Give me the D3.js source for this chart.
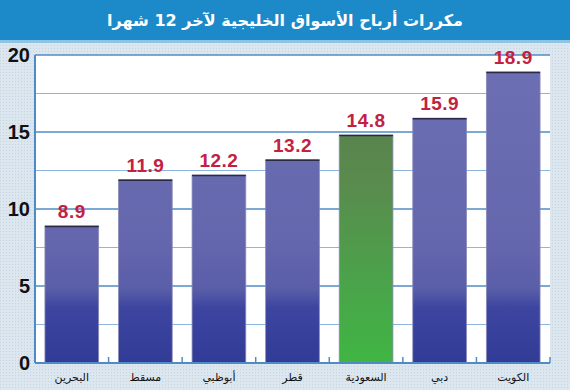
<!DOCTYPE html>
<html>
<head>
<meta charset="utf-8">
<script src="https://cdn.jsdelivr.net/npm/d3@7"></script>
<style>
  html, body { margin: 0; padding: 0; background: #d9e5ee; }
  svg { display: block; }
</style>
</head>
<body>
<svg id="chart" width="570" height="390"></svg>
<script>
const title = 'مكررات أرباح الأسواق الخليجية لآخر 12 شهرا';
const markets = ['البحرين', 'مسقط', 'أبوظبي', 'قطر', 'السعودية', 'دبي', 'الكويت'];
const multiples = [8.9, 11.9, 12.2, 13.2, 14.8, 15.9, 18.9];
const highlight = ['السعودية'];
const yTicks = [0, 5, 10, 15, 20];
const yGrid = [2.5, 5, 7.5, 10, 12.5, 15, 17.5, 20];

const W = 570, H = 390;
const plot = { left: 35, right: 550, top: 55, bottom: 363 };

const svg = d3.select('#chart');
const defs = svg.append('defs');

// dotted paper background
const pat = defs.append('pattern').attr('id', 'dots')
  .attr('width', 3).attr('height', 3).attr('patternUnits', 'userSpaceOnUse');
pat.append('rect').attr('width', 3).attr('height', 3).attr('fill', '#dbe6ef');
pat.append('rect').attr('width', 1).attr('height', 1).attr('fill', '#c5d4e0');
svg.append('rect').attr('width', W).attr('height', H).attr('fill', 'url(#dots)');

const x = d3.scaleBand().domain(markets).range([plot.left, plot.right]).paddingInner(0.27).paddingOuter(0.135);
const y = d3.scaleLinear().domain([0, 20]).range([plot.bottom, plot.top]);

function grad(id, stops) {
  const g = defs.append('linearGradient').attr('id', id)
    .attr('gradientUnits', 'userSpaceOnUse')
    .attr('x1', 0).attr('x2', 0).attr('y1', y(20)).attr('y2', y(0));
  stops.forEach(([o, c]) => g.append('stop').attr('offset', o).attr('stop-color', c));
}
grad('blueBar', [[0, '#6d6fb4'], [0.6, '#6567ae'], [0.76, '#5a5ea8'], [0.82, '#3d45a0'], [1, '#313c96']]);
grad('greenBar', [[0, '#577a4c'], [0.4, '#5a8a4e'], [0.75, '#4aa44a'], [1, '#3fb543']]);

// title bar
svg.append('rect').attr('x', 0).attr('y', 0).attr('width', W).attr('height', 40).attr('fill', '#1c89c9');
svg.append('rect').attr('x', 0).attr('y', 40).attr('width', W).attr('height', 3).attr('fill', '#8ec3e4');
svg.append('text')
  .attr('x', W / 2).attr('y', 26)
  .attr('text-anchor', 'middle')
  .attr('direction', 'rtl')
  .attr('fill', '#fff')
  .attr('font-family', 'DejaVu Sans, Noto Sans, sans-serif')
  .attr('font-weight', 'bold')
  .attr('font-size', 16)
  .text(title);

// plot area
svg.append('rect')
  .attr('x', plot.left).attr('y', plot.top)
  .attr('width', plot.right - plot.left).attr('height', plot.bottom - plot.top)
  .attr('fill', '#fff');

svg.append('g').selectAll('line').data(yGrid).join('line')
  .attr('x1', plot.left).attr('x2', plot.right)
  .attr('y1', d => y(d)).attr('y2', d => y(d))
  .attr('stroke', d => d % 5 === 0 ? '#4f8cc6' : '#8db6de')
  .attr('stroke-width', d => d % 5 === 0 ? 1.6 : 1.1);

// bars
svg.append('g').selectAll('rect').data(markets).join('rect')
  .attr('x', d => x(d))
  .attr('y', (d, i) => y(multiples[i]))
  .attr('width', x.bandwidth())
  .attr('height', (d, i) => y(0) - y(multiples[i]))
  .attr('fill', d => highlight.includes(d) ? 'url(#greenBar)' : 'url(#blueBar)')
  .attr('stroke', '#8a8ab8')
  .attr('stroke-width', 0.8);

svg.append('g').selectAll('line').data(markets).join('line')
  .attr('x1', d => x(d)).attr('x2', d => x(d) + x.bandwidth())
  .attr('y1', (d, i) => y(multiples[i]) + 0.5).attr('y2', (d, i) => y(multiples[i]) + 0.5)
  .attr('stroke', '#2a2a44').attr('stroke-width', 1.5);

// value labels
svg.append('g').selectAll('text').data(markets).join('text')
  .attr('x', d => x(d) + x.bandwidth() / 2)
  .attr('y', (d, i) => y(multiples[i]) - 8)
  .attr('text-anchor', 'middle')
  .attr('fill', '#c2213f')
  .attr('font-family', 'Liberation Sans, Arial, sans-serif')
  .attr('font-weight', 'bold')
  .attr('font-size', 19)
  .attr('letter-spacing', 0.5)
  .text((d, i) => multiples[i].toFixed(1));

// axes
svg.append('line')
  .attr('x1', plot.left).attr('x2', plot.left)
  .attr('y1', plot.top).attr('y2', plot.bottom)
  .attr('stroke', '#4f8cc6').attr('stroke-width', 2);
svg.append('line')
  .attr('x1', plot.left).attr('x2', plot.right)
  .attr('y1', plot.bottom).attr('y2', plot.bottom)
  .attr('stroke', '#4f8cc6').attr('stroke-width', 2);

const gaps = markets.map(d => x(d) + x.bandwidth() + x.step() * x.paddingInner() / 2);
svg.append('g').selectAll('line').data(gaps).join('line')
  .attr('x1', d => d).attr('x2', d => d)
  .attr('y1', plot.bottom - 6).attr('y2', plot.bottom)
  .attr('stroke', '#4f8cc6').attr('stroke-width', 1.5);

svg.append('g').selectAll('text').data(yTicks).join('text')
  .attr('x', 30).attr('y', d => y(d) + 7)
  .attr('text-anchor', 'end')
  .attr('fill', '#111')
  .attr('font-family', 'Liberation Sans, Arial, sans-serif')
  .attr('font-weight', 'bold')
  .attr('font-size', 20)
  .text(d => d);

svg.append('g').selectAll('text').data(markets).join('text')
  .attr('x', d => x(d) + x.bandwidth() / 2)
  .attr('y', 381)
  .attr('text-anchor', 'middle')
  .attr('direction', 'rtl')
  .attr('fill', '#111')
  .attr('font-family', 'DejaVu Sans, Noto Sans, sans-serif')
  .attr('font-size', 11)
  .text(d => d);
</script>
</body>
</html>
